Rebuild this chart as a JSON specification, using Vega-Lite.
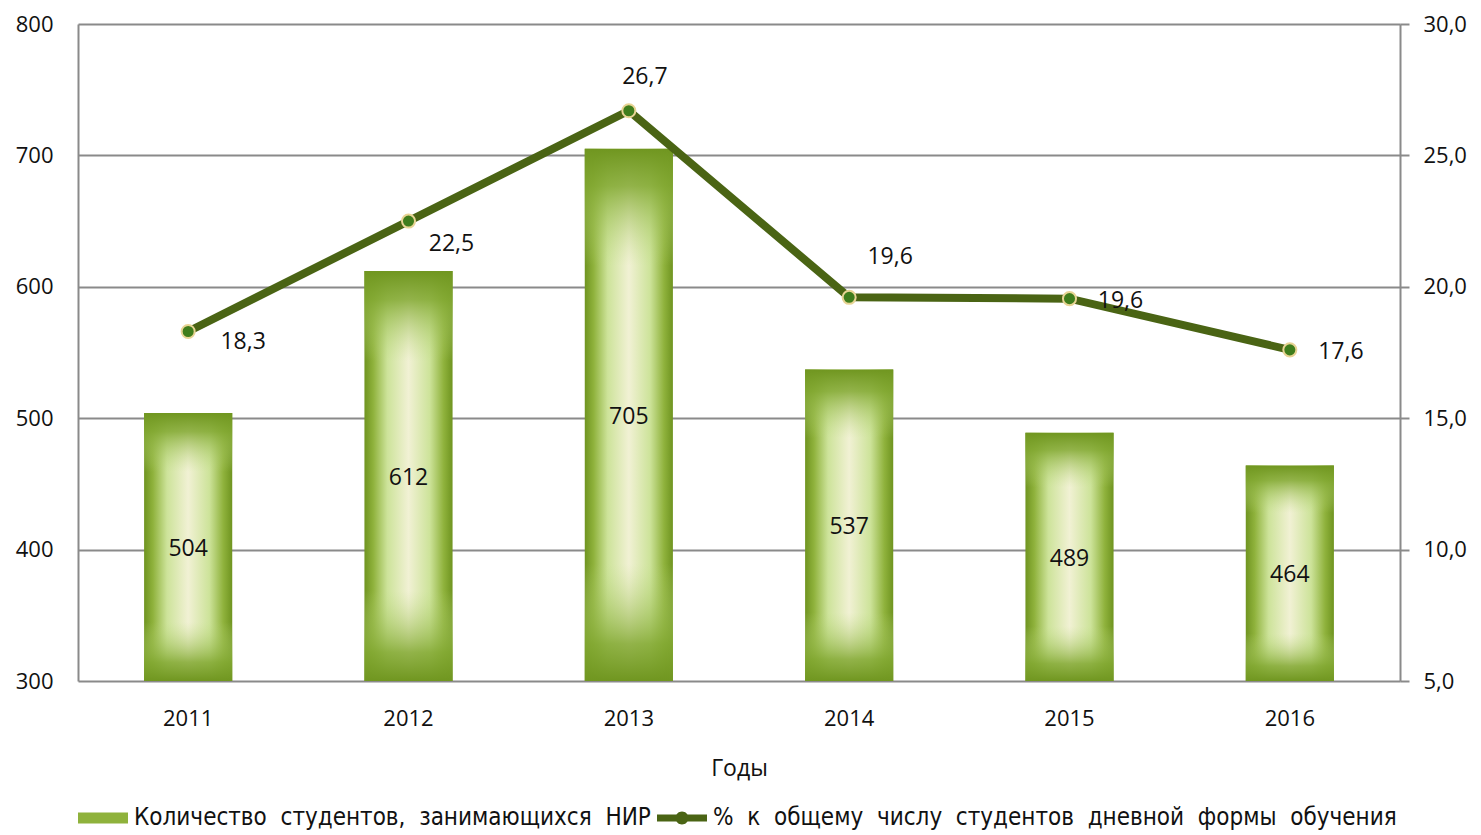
{
  "$schema": "https://vega.github.io/schema/vega-lite/v6.json",
  "width": 1322,
  "height": 657,
  "autosize": "none",
  "padding": {"left": 78, "top": 24, "right": 81, "bottom": 154},
  "background": "white",
  "config": {
    "view": {"stroke": null},
    "font": "Open Sans",
    "locale": {"number": {"decimal": ",", "thousands": " ", "grouping": [3], "currency": ["", ""]}}
  },
  "data": {
    "values": [
      {"year": "2011", "count": 504, "pct": 18.3},
      {"year": "2012", "count": 612, "pct": 22.5},
      {"year": "2013", "count": 705, "pct": 26.7},
      {"year": "2014", "count": 537, "pct": 19.6},
      {"year": "2015", "count": 489, "pct": 19.55},
      {"year": "2016", "count": 464, "pct": 17.6}
    ]
  },
  "layer": [
    {
      "encoding": {
        "x": {
          "field": "year", "type": "ordinal",
          "scale": {"paddingInner": 0.6, "paddingOuter": 0.3},
          "axis": {"title": "Годы", "labelAngle": 0, "ticks": false, "domain": false, "labelPadding": 27, "labelFontSize": 22, "labelColor": "#111", "titleFontSize": 23, "titleFontWeight": "normal", "titleColor": "#111", "titlePadding": 28}
        },
        "y": {
          "field": "count", "type": "quantitative",
          "scale": {"domain": [300, 800], "zero": false, "nice": false},
          "axis": {"orient": "left", "title": null, "values": [300, 400, 500, 600, 700, 800], "grid": true, "gridColor": "#8a8a8a", "gridWidth": 2, "domainColor": "#8a8a8a", "domainWidth": 2, "ticks": false, "labelPadding": 25, "labelFontSize": 22, "labelColor": "#111", "format": "d"}
        },
        "y2": {"datum": 300}
      },
      "layer": [
        {
          "mark": {"type": "bar", "fill": {"gradient": "linear", "x1": 0, "y1": 0, "x2": 1, "y2": 0, "stops": [
            {"offset": 0, "color": "#6f9420"},
            {"offset": 0.1, "color": "#8fb23c"},
            {"offset": 0.26, "color": "#cde39a"},
            {"offset": 0.5, "color": "#f1f1d4"},
            {"offset": 0.74, "color": "#cde39a"},
            {"offset": 0.9, "color": "#8fb23c"},
            {"offset": 1, "color": "#6f9420"}]}}
        },
        {
          "mark": {"type": "bar", "fill": {"gradient": "linear", "x1": 0, "y1": 0, "x2": 0, "y2": 1, "stops": [
            {"offset": 0, "color": "rgba(112,150,32,1)"},
            {"offset": 0.07, "color": "rgba(130,168,50,0.85)"},
            {"offset": 0.22, "color": "rgba(190,218,130,0)"},
            {"offset": 0.78, "color": "rgba(190,218,130,0)"},
            {"offset": 0.93, "color": "rgba(130,168,50,0.85)"},
            {"offset": 1, "color": "rgba(112,150,32,1)"}]}}
        }
      ]
    },
    {
      "mark": {"type": "text", "fontSize": 23, "color": "#111", "baseline": "middle", "dy": 2},
      "encoding": {
        "x": {"field": "year", "type": "ordinal"},
        "y": {"field": "count", "type": "quantitative", "scale": {"domain": [300, 1300], "zero": false, "nice": false}, "axis": null},
        "text": {"field": "count", "type": "quantitative", "format": "d"}
      }
    },
    {
      "encoding": {
        "x": {"field": "year", "type": "ordinal"},
        "y": {
          "field": "pct", "type": "quantitative",
          "scale": {"domain": [5, 30], "zero": false, "nice": false},
          "axis": {"orient": "right", "title": null, "values": [5, 10, 15, 20, 25, 30], "format": ".1f", "grid": false, "domainColor": "#8a8a8a", "domainWidth": 2, "ticks": true, "tickSize": 9, "tickColor": "#8a8a8a", "tickWidth": 2, "labelPadding": 14, "labelFontSize": 22, "labelColor": "#111"}
        }
      },
      "layer": [
        {"mark": {"type": "line", "color": "#4a6414", "strokeWidth": 8}},
        {"mark": {"type": "point", "filled": true, "fill": "#3f7d1c", "stroke": "#e8d494", "strokeWidth": 2, "size": 170, "opacity": 1}},
        {
          "transform": [{"filter": "datum.year == '2011'"}],
          "mark": {"type": "text", "fontSize": 23, "color": "#111", "align": "center", "baseline": "middle", "dx": 55, "dy": 11},
          "encoding": {"text": {"field": "pct", "type": "quantitative", "format": ".1f"}}
        },
        {
          "transform": [{"filter": "datum.year == '2012'"}],
          "mark": {"type": "text", "fontSize": 23, "color": "#111", "align": "center", "baseline": "middle", "dx": 43, "dy": 23},
          "encoding": {"text": {"field": "pct", "type": "quantitative", "format": ".1f"}}
        },
        {
          "transform": [{"filter": "datum.year == '2013'"}],
          "mark": {"type": "text", "fontSize": 23, "color": "#111", "align": "center", "baseline": "middle", "dx": 16, "dy": -34},
          "encoding": {"text": {"field": "pct", "type": "quantitative", "format": ".1f"}}
        },
        {
          "transform": [{"filter": "datum.year == '2014'"}],
          "mark": {"type": "text", "fontSize": 23, "color": "#111", "align": "center", "baseline": "middle", "dx": 41, "dy": -40},
          "encoding": {"text": {"value": "19,6"}}
        },
        {
          "transform": [{"filter": "datum.year == '2015'"}],
          "mark": {"type": "text", "fontSize": 23, "color": "#111", "align": "center", "baseline": "middle", "dx": 51, "dy": 2},
          "encoding": {"text": {"value": "19,6"}}
        },
        {
          "transform": [{"filter": "datum.year == '2016'"}],
          "mark": {"type": "text", "fontSize": 23, "color": "#111", "align": "center", "baseline": "middle", "dx": 51, "dy": 2},
          "encoding": {"text": {"field": "pct", "type": "quantitative", "format": ".1f"}}
        }
      ]
    },
    {
      "data": {"values": [
        {"series": "Количество\u00a0 студентов,\u00a0 занимающихся\u00a0 НИР"},
        {"series": "%\u00a0 к\u00a0 общему\u00a0 числу\u00a0 студентов\u00a0 дневной\u00a0 формы\u00a0 обучения"}
      ]},
      "mark": {"type": "point", "opacity": 0, "filled": true},
      "encoding": {
        "color": {
          "field": "series", "type": "nominal",
          "scale": {"domain": ["Количество\u00a0 студентов,\u00a0 занимающихся\u00a0 НИР", "%\u00a0 к\u00a0 общему\u00a0 числу\u00a0 студентов\u00a0 дневной\u00a0 формы\u00a0 обучения"], "range": ["#8fb23c", "#4a6414"]},
          "legend": {
            "orient": "bottom", "direction": "horizontal", "title": null,
            "labelFont": "DejaVu Sans Condensed, Roboto, sans-serif", "labelFontSize": 24, "labelColor": "#111", "labelLimit": 800,
            "symbolSize": 2500, "symbolOpacity": 1, "symbolStrokeWidth": 0, "labelOffset": 6, "columnPadding": 6, "offset": 13,
            "encode": {"symbols": {"update": {
              "shape": {"signal": "datum.index === 0 ? 'M-1,-0.22H1V0.22H-1Z' : 'M-1,-0.14H1V0.14H-1Z M0.26,0 A0.26,0.26 0 1,1 -0.26,0 A0.26,0.26 0 1,1 0.26,0Z'"},
              "fill": {"signal": "datum.index === 0 ? {gradient: 'linear', x1: 0, y1: 0, x2: 1, y2: 0, stops: [{offset: 0, color: '#7a9e28'}, {offset: 0.5, color: '#eef2c8'}, {offset: 1, color: '#7a9e28'}]} : '#4a6414'"},
              "opacity": {"value": 1}
            }}}
          }
        }
      }
    }
  ],
  "resolve": {"scale": {"y": "independent"}, "axis": {"y": "independent"}}
}
